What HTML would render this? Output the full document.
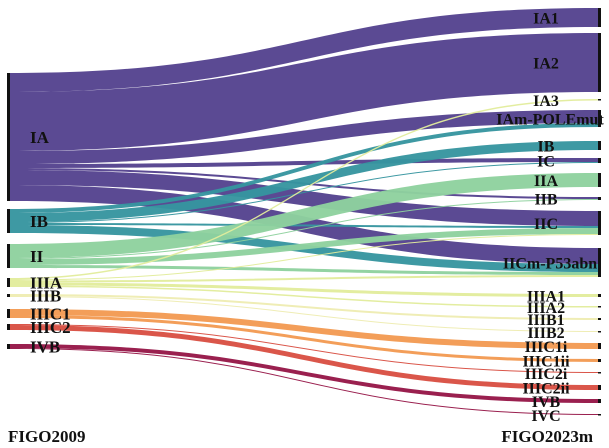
<!DOCTYPE html>
<html><head><meta charset="utf-8">
<style>
html,body{margin:0;padding:0;background:#fff;}
svg{display:block;}
text{font-family:"Liberation Serif",serif;font-weight:bold;fill:#111;}
</style></head>
<body>
<svg id="chart" width="609" height="448" viewBox="0 0 609 448"></svg>
<script>
// ---- data ----
const leftNodes = ["IA","IB","II","IIIA","IIIB","IIIC1","IIIC2","IVB"];
const rightNodes = ["IA1","IA2","IA3","IAm-POLEmut","IB","IC","IIA","IIB","IIC","IICm-P53abn","IIIA1","IIIA2","IIIB1","IIIB2","IIIC1i","IIIC1ii","IIIC2i","IIIC2ii","IVB","IVC"];
const flowSource = ["IA","IA","IA","IA","IA","IA","IA",
  "IB","IB","IB","IB","IB",
  "II","II","II","II",
  "IIIA","IIIA","IIIA","IIIA","IIIA",
  "IIIB","IIIB","IIIC1","IIIC1","IIIC2","IIIC2","IVB","IVB"];
const flowTarget = ["IA1","IA2","IAm-POLEmut","IC","IIB","IIC","IICm-P53abn",
  "IAm-POLEmut","IB","IC","IIC","IICm-P53abn",
  "IIA","IIB","IIC","IICm-P53abn",
  "IA3","IIC","IICm-P53abn","IIIA1","IIIA2",
  "IIIB1","IIIB2","IIIC1i","IIIC1ii","IIIC2i","IIIC2ii","IVB","IVC"];
const flowValue = [19,59,13,4,2,15,16,
  4,9,1,2,8,
  14,1,6,3,
  1.5,1,2,3,1.5,
  2,1,6,3,1,5,4,1];
const colors = {"IA":"#54438f","IB":"#36959f","II":"#8fd19e","IIIA":"#e2ec9c","IIIB":"#eeecb2","IIIC1":"#f29a52","IIIC2":"#d94f43","IVB":"#961748"};

// ---- layout ----
const leftTop = [73,209,244,278,294,309,324,344];
const rightTop = [8,33,99,110,141,158,173,197,211,248,294,306,318,331,343,359,372,385,399,414];
const scale = 1;
const xL = 10, xR = 598;
const NS = "http://www.w3.org/2000/svg";
const svg = document.getElementById('chart');
function mk(tag, attrs){const e=document.createElementNS(NS,tag);for(const k in attrs)e.setAttribute(k,attrs[k]);return e;}

const lOff = {}, rOff = {};
leftNodes.forEach((n,i)=>lOff[n]=leftTop[i]);
rightNodes.forEach((n,i)=>rOff[n]=rightTop[i]);
const lHeight={}, rHeight={};
flowValue.forEach((v,i)=>{lHeight[flowSource[i]]=(lHeight[flowSource[i]]||0)+v*scale;rHeight[flowTarget[i]]=(rHeight[flowTarget[i]]||0)+v*scale;});

const idx = flowValue.map((v,i)=>i);
const srcSorted = idx.slice().sort((a,b)=>leftNodes.indexOf(flowSource[a])-leftNodes.indexOf(flowSource[b]) || rightNodes.indexOf(flowTarget[a])-rightNodes.indexOf(flowTarget[b]));
const y0s = {}, y1s = {};
srcSorted.forEach(i=>{y0s[i]=lOff[flowSource[i]];lOff[flowSource[i]]+=flowValue[i]*scale;});
const tgtSorted = idx.slice().sort((a,b)=>rightNodes.indexOf(flowTarget[a])-rightNodes.indexOf(flowTarget[b]) || leftNodes.indexOf(flowSource[a])-leftNodes.indexOf(flowSource[b]));
tgtSorted.forEach(i=>{y1s[i]=rOff[flowTarget[i]];rOff[flowTarget[i]]+=flowValue[i]*scale;});

const gL = mk('g',{});


svg.appendChild(gL);
const xm = (xL+xR)/2;
idx.forEach(i=>{
  const h=flowValue[i]*scale, a=y0s[i], b=y1s[i];
  const d=`M${xL},${a} C${xm},${a} ${xm},${b} ${xR},${b} L${xR},${b+h} C${xm},${b+h} ${xm},${a+h} ${xL},${a+h} Z`;
  const p=mk('path',{d:d,fill:colors[flowSource[i]],'fill-opacity':0.96});
  
  
  gL.appendChild(p);
});

leftNodes.forEach((n,i)=>{
  const h=Math.max(lHeight[n]||0,2);
  const r=mk('rect',{x:7,y:leftTop[i],width:3,height:h,fill:'#111'});
  
  
  svg.appendChild(r);
  const t=mk('text',{x:30,y:leftTop[i]+h/2+6,'font-size':17});
  t.textContent=n;
  
  
  svg.appendChild(t);
});
rightNodes.forEach((n,i)=>{
  const h=Math.max(rHeight[n]||0,1.5);
  const r=mk('rect',{x:598,y:rightTop[i],width:3,height:h,fill:'#111'});
  
  
  svg.appendChild(r);
  const t=mk('text',{x:n==="IAm-POLEmut"||n==="IICm-P53abn"?550:546,y:rightTop[i]+h/2+6,'font-size':16,'text-anchor':'middle'});
  t.textContent=n;
  
  
  svg.appendChild(t);
});
const a1=mk('text',{x:8,y:442,'font-size':17});a1.textContent='FIGO2009';


svg.appendChild(a1);
const a2=mk('text',{x:593,y:442,'font-size':17,'text-anchor':'end'});a2.textContent='FIGO2023m';


svg.appendChild(a2);
</script>
</body></html>
